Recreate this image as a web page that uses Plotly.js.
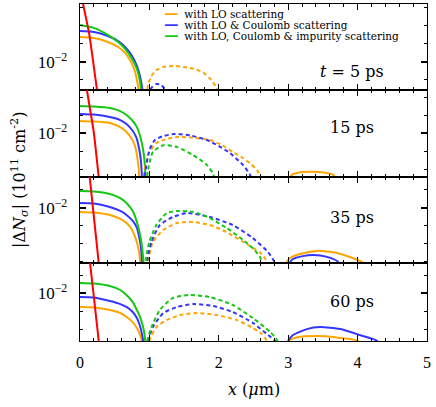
<!DOCTYPE html>
<html>
<head>
<meta charset="utf-8">
<script src="https://cdn.plot.ly/plotly-3.0.1.min.js"></script>
<style>html,body{margin:0;padding:0;background:#fff}</style>
</head>
<body>
<div id="chart" style="width:436px;height:407px"></div>
<script>
// t = 5 ps
let redX5 = [0, 0.045, 0.13, 0.19, 0.245, 0.3]
let redY5 = [209, 16.6, 0.41, 0.01, 2.75e-4, 1.26e-5]
let loX5 = [0, 0.2, 0.4, 0.55, 0.65, 0.72, 0.78, 0.82, 0.85, 0.87]
let loY5 = [0.245, 0.214, 0.129, 0.0676, 0.0316, 0.0129, 0.0041, 0.001, 2.1e-4, 2.1e-5]
let coulX5 = [0, 0.2, 0.4, 0.55, 0.65, 0.75, 0.82, 0.87, 0.9, 0.92]
let coulY5 = [0.525, 0.457, 0.275, 0.145, 0.0676, 0.0214, 0.006, 0.0013, 2.75e-4, 2.1e-5]
let impX5 = [0, 0.2, 0.4, 0.55, 0.65, 0.75, 0.82, 0.86, 0.88, 0.9]
let impY5 = [1.12, 0.776, 0.316, 0.129, 0.0525, 0.0145, 0.0041, 0.001, 2.75e-4, 2.1e-5]
let loDashX5 = [0.94, 0.98, 1.03, 1.1, 1.2, 1.35, 1.5, 1.65, 1.78, 1.88, 1.96, 2.01]
let loDashY5 = [2.1e-5, 5.2e-4, 1.66e-3, 3.5e-3, 5.2e-3, 6.0e-3, 5.2e-3, 4.1e-3, 2.45e-3, 1.12e-3, 4.1e-4, 7.8e-5]
let coulDashX5 = [0.97, 1.0, 1.04, 1.1, 1.17, 1.22, 1.26]
let coulDashY5 = [2.1e-5, 2.1e-4, 4.1e-4, 6.0e-4, 5.2e-4, 3.2e-4, 7.8e-5]

// t = 15 ps
let redX15 = [0, 0.1, 0.2, 0.27, 0.32]
let redY15 = [1660, 2.45, 0.01, 3.6e-5, 1.3e-6]
let loX15 = [0, 0.2, 0.43, 0.58, 0.67, 0.74, 0.79, 0.82, 0.845, 0.86]
let loY15 = [0.0468, 0.0437, 0.0363, 0.0214, 0.0115, 5.2e-3, 2.1e-3, 6.0e-4, 1.15e-4, 6.8e-6]
let coulX15 = [0, 0.2, 0.43, 0.58, 0.67, 0.75, 0.81, 0.85, 0.88, 0.9]
let coulY15 = [0.115, 0.107, 0.0776, 0.0525, 0.0316, 0.0148, 6.0e-3, 1.48e-3, 2.45e-4, 6.8e-6]
let impX15 = [0, 0.2, 0.43, 0.58, 0.67, 0.76, 0.82, 0.87, 0.91, 0.935, 0.95]
let impY15 = [0.316, 0.295, 0.245, 0.166, 0.1, 0.0468, 0.0214, 6.0e-3, 1.15e-3, 1.66e-4, 6.8e-6]
let loDashX15 = [0.9, 0.93, 0.98, 1.1, 1.25, 1.4, 1.6, 1.87, 2.05, 2.2, 2.35, 2.45, 2.55, 2.62, 2.65]
let loDashY15 = [6.8e-6, 8.9e-5, 6.0e-4, 2.8e-3, 4.7e-3, 6.0e-3, 5.6e-3, 4.1e-3, 2.1e-3, 8.9e-4, 4.1e-4, 2.1e-4, 8.9e-5, 2.45e-5, 3.6e-6]
let coulDashX15 = [0.9, 0.94, 1.0, 1.08, 1.2, 1.37, 1.6, 1.83, 2.0, 2.16, 2.35, 2.45, 2.5]
let coulDashY15 = [6.8e-6, 6.8e-5, 1.15e-3, 4.1e-3, 6.8e-3, 8.9e-3, 7.2e-3, 4.1e-3, 1.9e-3, 7.8e-4, 1.66e-4, 4.7e-5, 6.8e-6]
let impDashX15 = [0.95, 0.98, 1.05, 1.2, 1.4, 1.63, 1.83, 1.92, 1.97]
let impDashY15 = [6.8e-6, 8.9e-5, 8.9e-4, 2.1e-3, 1.66e-3, 6.0e-4, 1.66e-4, 5.2e-5, 6.8e-6]
let loBumpX15 = [2.97, 3.05, 3.2, 3.35, 3.5, 3.65, 3.75]
let loBumpY15 = [6.8e-6, 4.7e-5, 6.8e-5, 7.2e-5, 6.5e-5, 4.7e-5, 6.8e-6]

// t = 35 ps
let redX35 = [0, 0.14, 0.2, 0.27, 0.31]
let redY35 = [6.8e4, 0.525, 3.16e-3, 8.7e-6, 2.75e-7]
let loX35 = [0, 0.2, 0.43, 0.58, 0.67, 0.75, 0.8, 0.83, 0.85, 0.865, 0.875]
let loY35 = [6.0e-3, 5.6e-3, 4.1e-3, 2.45e-3, 1.45e-3, 6.0e-4, 2.1e-4, 8.7e-5, 3.5e-5, 1.29e-5, 1.9e-6]
let coulX35 = [0, 0.2, 0.43, 0.58, 0.67, 0.76, 0.82, 0.85, 0.875, 0.89, 0.9]
let coulY35 = [0.019, 0.0178, 0.0112, 6.8e-3, 4.1e-3, 1.9e-3, 7.8e-4, 2.75e-4, 7.8e-5, 1.66e-5, 1.9e-6]
let impX35 = [0, 0.2, 0.43, 0.58, 0.67, 0.76, 0.82, 0.86, 0.89, 0.91, 0.92]
let impY35 = [0.087, 0.083, 0.06, 0.0355, 0.019, 6.8e-3, 1.66e-3, 4.1e-4, 8.7e-5, 1.66e-5, 1.9e-6]
let loDashX35 = [0.96, 0.98, 1.05, 1.2, 1.4, 1.63, 1.87, 2.11, 2.35, 2.6, 2.7, 2.74]
let loDashY35 = [1.9e-6, 1e-5, 1.29e-4, 6.0e-4, 1.45e-3, 1.66e-3, 1.12e-3, 4.6e-4, 1.29e-4, 3.16e-5, 1e-5, 1.9e-6]
let coulDashX35 = [0.95, 0.97, 1.03, 1.15, 1.34, 1.54, 1.87, 2.2, 2.49, 2.71, 2.8, 2.84]
let coulDashY35 = [1.9e-6, 1.29e-5, 1.29e-4, 1.12e-3, 3.16e-3, 5.2e-3, 3.16e-3, 1.12e-3, 2.1e-4, 3.5e-5, 1e-5, 1.9e-6]
let impDashX35 = [0.93, 0.95, 1.0, 1.1, 1.25, 1.4, 1.63, 1.87, 2.11, 2.35, 2.5, 2.6, 2.64]
let impDashY35 = [1.9e-6, 1.66e-5, 1.29e-4, 1.12e-3, 5.2e-3, 6.8e-3, 6.0e-3, 2.75e-3, 7.8e-4, 1.66e-4, 5.2e-5, 1.66e-5, 1.9e-6]
let loBumpX35 = [2.94, 2.97, 3.03, 3.17, 3.41, 3.7, 3.93, 4.08, 4.14]
let loBumpY35 = [1.9e-6, 8.7e-6, 1.66e-5, 2.75e-5, 4.1e-5, 3.16e-5, 1.66e-5, 8.7e-6, 1.9e-6]
let coulBumpX35 = [3.0, 3.02, 3.07, 3.21, 3.36, 3.56, 3.72, 3.78]
let coulBumpY35 = [1.9e-6, 8.7e-6, 1.45e-5, 2.1e-5, 2.45e-5, 1.9e-5, 1e-5, 1.9e-6]

// t = 60 ps
let redX60 = [0, 0.145, 0.2, 0.27, 0.31]
let redY60 = [5e4, 0.468, 6.0e-3, 2.2e-5, 8.9e-7]
let loX60 = [0, 0.2, 0.43, 0.58, 0.67, 0.76, 0.82, 0.86, 0.89, 0.9]
let loY60 = [1.66e-3, 1.58e-3, 1.15e-3, 7.8e-4, 4.7e-4, 2.45e-4, 1.15e-4, 5.4e-5, 2.2e-5, 3.6e-6]
let coulX60 = [0, 0.2, 0.43, 0.58, 0.67, 0.76, 0.82, 0.86, 0.89, 0.91, 0.92]
let coulY60 = [6.0e-3, 5.6e-3, 3.6e-3, 2.45e-3, 1.7e-3, 8.9e-4, 4.1e-4, 1.7e-4, 6.0e-5, 2.2e-5, 3.6e-6]
let impX60 = [0, 0.2, 0.43, 0.58, 0.67, 0.76, 0.82, 0.86, 0.89, 0.92, 0.94, 0.95]
let impY60 = [0.0363, 0.0339, 0.0245, 0.0148, 7.8e-3, 3.16e-3, 1.15e-3, 5.2e-4, 2.45e-4, 8.7e-5, 2.2e-5, 3.6e-6]
let loDashX60 = [0.99, 1.0, 1.1, 1.25, 1.44, 1.68, 1.97, 2.26, 2.49, 2.62, 2.69, 2.71]
let loDashY60 = [3.6e-6, 2.2e-5, 1.29e-4, 3.16e-4, 6.0e-4, 7.8e-4, 6.0e-4, 3.16e-4, 1.15e-4, 5.4e-5, 2.2e-5, 3.6e-6]
let coulDashX60 = [0.97, 0.98, 1.05, 1.2, 1.4, 1.63, 1.92, 2.2, 2.49, 2.71, 2.81, 2.83]
let coulDashY60 = [3.6e-6, 2.2e-5, 1.29e-4, 7.8e-4, 1.7e-3, 2.45e-3, 1.9e-3, 8.9e-4, 2.2e-4, 4.7e-5, 2.2e-5, 3.6e-6]
let impDashX60 = [0.96, 0.97, 1.03, 1.15, 1.34, 1.58, 1.87, 2.2, 2.49, 2.74, 2.84, 2.86]
let impDashY60 = [3.6e-6, 2.2e-5, 1.29e-4, 1.15e-3, 5.4e-3, 7.8e-3, 6.0e-3, 2.2e-3, 4.1e-4, 6.9e-5, 2.45e-5, 3.6e-6]
let loBumpX60 = [2.99, 3.0, 3.12, 3.41, 3.7, 4.0, 4.04]
let loBumpY60 = [3.6e-6, 2.2e-5, 3.4e-5, 4.1e-5, 3.4e-5, 2.2e-5, 3.6e-6]
let coulBumpX60 = [2.99, 3.0, 3.07, 3.27, 3.46, 3.75, 4.03, 4.28, 4.32]
let coulBumpY60 = [3.6e-6, 2.2e-5, 4.7e-5, 1e-4, 1.29e-4, 1e-4, 4.7e-5, 2.2e-5, 3.6e-6]

let panelLabels = ["<i>t</i> = 5 ps", "15 ps", "35 ps", "60 ps"]
let legendNames = ["with LO scattering", "with LO &amp; Coulomb scattering", "with LO, Coulomb &amp; impurity scattering"]

let orange = "#ffa500", blue = "#3535ff", green = "#12c812", red = "#ff0000"
let serif = "DejaVu Serif"
let thin = "Liberation Serif"

function line(x, y, color, panel, dashed) {
	return {
		x: x, y: y, type: "scatter", mode: "lines",
		xaxis: panel === 1 ? "x" : "x" + panel,
		yaxis: panel === 1 ? "y" : "y" + panel,
		line: {color: color, width: 2, dash: dashed ? "4px,3px" : "solid", shape: "spline", smoothing: 0.6},
		showlegend: false, hoverinfo: "skip"
	}
}

let data = [
	line(loX5, loY5, orange, 1), line(coulX5, coulY5, blue, 1), line(impX5, impY5, green, 1),
	line(loDashX5, loDashY5, orange, 1, true), line(coulDashX5, coulDashY5, blue, 1, true),
	line(redX5, redY5, red, 1),

	line(loX15, loY15, orange, 2), line(coulX15, coulY15, blue, 2), line(impX15, impY15, green, 2),
	line(loDashX15, loDashY15, orange, 2, true), line(coulDashX15, coulDashY15, blue, 2, true),
	line(impDashX15, impDashY15, green, 2, true), line(loBumpX15, loBumpY15, orange, 2),
	line(redX15, redY15, red, 2),

	line(loX35, loY35, orange, 3), line(coulX35, coulY35, blue, 3), line(impX35, impY35, green, 3),
	line(loDashX35, loDashY35, orange, 3, true), line(coulDashX35, coulDashY35, blue, 3, true),
	line(impDashX35, impDashY35, green, 3, true), line(loBumpX35, loBumpY35, orange, 3),
	line(coulBumpX35, coulBumpY35, blue, 3),
	line(redX35, redY35, red, 3),

	line(loX60, loY60, orange, 4), line(coulX60, coulY60, blue, 4), line(impX60, impY60, green, 4),
	line(loDashX60, loDashY60, orange, 4, true), line(coulDashX60, coulDashY60, blue, 4, true),
	line(impDashX60, impDashY60, green, 4, true), line(loBumpX60, loBumpY60, orange, 4),
	line(coulBumpX60, coulBumpY60, blue, 4),
	line(redX60, redY60, red, 4),
]

let domains = [[0.7448, 1], [0.4866, 0.7448], [0.2315, 0.4866], [0, 0.2315]]
let yRanges = [[-3.56, 1.22], [-4.44, 0.39], [-5.06, -0.28], [-4.66, -0.33]]

let layout = {
	width: 436, height: 407,
	margin: {l: 80, r: 9, t: 4, b: 66},
	paper_bgcolor: "white", plot_bgcolor: "white",
	showlegend: false,
	font: {family: serif, color: "black", size: 14},
	annotations: []
}

domains.forEach((dom, i) => {
	let n = i === 0 ? "" : String(i + 1)
	layout["xaxis" + n] = {
		domain: [0, 1], range: [0, 5], anchor: "y" + n,
		tickvals: [0, 1, 2, 3, 4, 5], showticklabels: i === 3,
		ticks: "inside", ticklen: 6, tickwidth: 1.2, tickcolor: "black",
		minor: {dtick: 0.2, ticks: "inside", ticklen: 3, tickwidth: 1, tickcolor: "black"},
		showline: true, linewidth: 1.3, linecolor: "black", mirror: "ticks",
		showgrid: false, zeroline: false,
		tickfont: {family: thin, size: 16}, ticklabelstandoff: 6
	}
	layout["yaxis" + n] = {
		domain: dom, type: "log", range: yRanges[i], anchor: "x" + n,
		tickvals: [0.01], ticktext: ["10<sup>\u22122</sup>"],
		ticks: "inside", ticklen: 6, tickwidth: 1.2, tickcolor: "black",
		minor: {tickmode: "array", tickvals: [1e-7, 1e-6, 1e-5, 1e-4, 1e-3, 0.1, 1, 10], ticks: "inside", ticklen: 3, tickwidth: 1, tickcolor: "black"},
		showline: true, linewidth: 1.3, linecolor: "black", mirror: "ticks",
		showgrid: false, zeroline: false,
		tickfont: {family: thin, size: 17}, ticklabelstandoff: 8
	}
})

let labelY = [0.801, 0.635, 0.365, 0.116]
panelLabels.forEach((txt, i) => {
	layout.annotations.push({
		text: txt, xref: "paper", yref: "paper", x: 0.784, y: labelY[i],
		xanchor: "center", yanchor: "middle", showarrow: false,
		font: {family: serif, size: 16}
	})
})

let legendColors = [orange, blue, green]
let legendY = [0.970, 0.938, 0.905]
legendNames.forEach((name, i) => {
	layout.annotations.push({
		text: '<span style="color:' + legendColors[i] + '">\u2501\u2501</span>  ' + name,
		xref: "paper", yref: "paper", x: 0.236, y: legendY[i],
		xanchor: "left", yanchor: "middle", showarrow: false,
		font: {family: serif, size: 10.5}
	})
})

layout.annotations.push({
	text: "|\u0394<i>N</i><sub><i>\u03c3</i></sub>| (10<sup>11</sup> cm<sup>-2</sup>)",
	xref: "paper", yref: "paper", x: -0.173, y: 0.478, textangle: -90,
	xanchor: "center", yanchor: "middle", showarrow: false,
	font: {family: serif, size: 16}
})
layout.annotations.push({
	text: "<i>x</i> (<i>\u03bc</i>m)",
	xref: "paper", yref: "paper", x: 0.5, y: -0.145,
	xanchor: "center", yanchor: "middle", showarrow: false,
	font: {family: serif, size: 16}
})

Plotly.newPlot("chart", data, layout, {staticPlot: true})
</script>
</body>
</html>
